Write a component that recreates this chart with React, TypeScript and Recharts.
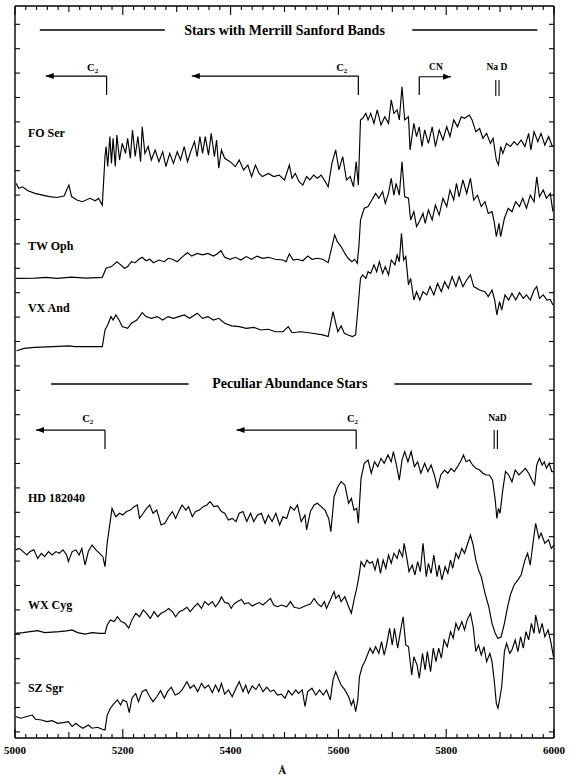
import React from 'react';
import { LineChart, Line, XAxis, YAxis, ReferenceLine, ReferenceDot } from 'recharts';

type Pt = [number, number];

const FONT = '"Liberation Serif", "Times New Roman", serif';

// x axis: wavelength in Angstrom
const xLabels = [5000, 5200, 5400, 5600, 5800, 6000];
const xTicks = Array.from({ length: 51 }, (_, i) => 5000 + i * 20);
const yTicks = Array.from({ length: 30 }, (_, i) => i + 0.25);

// spectra, [wavelength, offset flux]
const foSer: Pt[] = [[5002,22.73],[5007,22.53],[5014,22.59],[5024,22.43],[5037,22.32],[5051,22.25],[5064,22.19],[5078,22.15],[5091,22.21],[5100,22.66],[5105,22.19],[5115,22.05],[5125,21.98],[5139,22.12],[5149,22.02],[5155,22.12],[5162,21.84],[5167,23.83],[5169,24.24],[5172,23.42],[5176,24.65],[5179,23.55],[5182,24.58],[5186,23.42],[5189,24.71],[5194,23.69],[5199,24.37],[5205,23.96],[5209,24.58],[5214,23.76],[5218,24.92],[5223,23.83],[5228,24.65],[5233,23.62],[5236,25.05],[5241,23.96],[5247,24.24],[5253,23.69],[5260,24.10],[5267,23.62],[5274,24.03],[5280,23.42],[5287,23.96],[5294,23.55],[5301,24.03],[5307,23.69],[5314,24.24],[5320,23.62],[5326,24.03],[5333,24.44],[5338,23.83],[5343,24.65],[5348,23.96],[5353,24.65],[5359,23.89],[5364,24.78],[5370,23.83],[5374,24.51],[5378,23.35],[5383,24.10],[5389,23.76],[5399,23.62],[5409,23.42],[5416,23.69],[5424,23.28],[5432,23.48],[5439,23.01],[5446,23.48],[5453,23.14],[5459,23.01],[5470,23.14],[5480,23.01],[5490,23.07],[5500,22.87],[5509,23.48],[5514,22.94],[5520,23.14],[5527,22.80],[5534,22.66],[5541,23.01],[5547,22.87],[5554,23.07],[5561,22.94],[5568,23.07],[5574,22.87],[5581,22.59],[5588,23.55],[5595,24.10],[5601,23.28],[5608,23.83],[5615,22.87],[5622,23.01],[5628,22.59],[5633,23.62],[5637,22.66],[5641,25.33],[5645,25.40],[5651,25.60],[5655,25.33],[5660,25.60],[5666,25.19],[5672,25.74],[5679,25.12],[5686,25.46],[5693,25.19],[5698,26.15],[5703,25.60],[5709,25.74],[5713,25.33],[5718,26.69],[5723,25.33],[5730,25.46],[5733,24.10],[5740,25.19],[5745,24.65],[5750,25.05],[5755,24.24],[5760,24.92],[5767,24.37],[5774,25.05],[5780,24.24],[5787,24.92],[5794,24.51],[5801,25.05],[5807,24.65],[5814,25.33],[5821,25.05],[5828,25.46],[5834,25.40],[5843,25.53],[5848,25.33],[5855,24.85],[5862,24.98],[5868,24.58],[5875,24.78],[5882,24.37],[5887,24.58],[5893,23.69],[5897,23.48],[5901,24.24],[5905,23.96],[5912,24.37],[5919,24.24],[5926,24.44],[5932,24.30],[5939,24.51],[5946,24.24],[5953,24.78],[5957,24.10],[5963,24.85],[5970,24.44],[5976,24.78],[5983,24.30],[5990,24.65],[5997,24.24]];

const twOph: Pt[] = [[5002,18.84],[5037,18.85],[5057,18.88],[5078,18.84],[5105,18.89],[5132,18.85],[5162,18.88],[5169,19.25],[5179,19.32],[5189,19.52],[5196,19.39],[5203,19.25],[5209,19.32],[5216,19.52],[5223,19.48],[5230,19.62],[5236,19.70],[5243,19.56],[5250,19.62],[5257,19.48],[5267,19.59],[5277,19.52],[5284,19.66],[5292,19.62],[5301,19.52],[5311,19.73],[5320,19.89],[5328,19.75],[5338,19.86],[5348,19.80],[5358,19.86],[5368,19.75],[5375,19.84],[5382,19.97],[5389,19.70],[5399,19.62],[5409,19.70],[5419,19.59],[5429,19.73],[5439,19.62],[5449,19.75],[5459,19.66],[5470,19.70],[5483,19.62],[5497,19.59],[5503,19.52],[5509,19.84],[5516,19.59],[5524,19.62],[5534,19.56],[5543,19.75],[5551,19.62],[5561,19.66],[5571,19.62],[5581,19.48],[5588,20.14],[5593,20.62],[5598,20.34],[5605,20.14],[5612,19.86],[5618,19.66],[5625,19.52],[5630,19.62],[5635,19.45],[5638,20.14],[5641,21.23],[5648,21.71],[5655,21.78],[5662,22.05],[5669,22.32],[5675,22.12],[5682,22.39],[5687,21.91],[5693,22.32],[5698,22.94],[5703,22.25],[5707,22.73],[5713,22.25],[5718,23.62],[5723,22.18],[5730,22.12],[5734,21.23],[5740,21.57],[5745,20.96],[5750,21.16],[5757,21.50],[5761,21.09],[5767,21.64],[5774,21.23],[5780,21.84],[5787,21.43],[5794,22.12],[5801,21.78],[5807,22.46],[5814,22.05],[5819,22.73],[5824,22.18],[5831,22.87],[5838,22.32],[5845,22.94],[5851,22.05],[5858,22.25],[5865,21.78],[5872,21.98],[5878,21.50],[5885,21.57],[5889,21.16],[5893,20.55],[5898,21.09],[5901,20.55],[5908,21.30],[5915,21.71],[5922,21.57],[5929,21.98],[5936,21.78],[5942,22.12],[5949,21.71],[5956,22.25],[5963,21.98],[5968,23.00],[5973,22.18],[5980,22.46],[5986,22.12],[5993,22.32],[5998,21.57]];

const vxAnd: Pt[] = [[5003,15.87],[5017,15.97],[5037,16.01],[5071,16.04],[5101,16.07],[5111,16.04],[5162,16.04],[5167,16.72],[5172,16.93],[5178,17.27],[5182,17.13],[5187,17.34],[5193,17.13],[5199,16.86],[5209,16.79],[5216,17.00],[5226,17.13],[5236,17.43],[5243,17.27],[5253,17.20],[5264,17.27],[5274,17.13],[5284,17.27],[5294,17.20],[5304,17.27],[5314,17.34],[5324,17.20],[5338,17.41],[5348,17.20],[5358,17.27],[5368,17.13],[5378,17.20],[5389,17.00],[5402,16.89],[5416,16.86],[5429,16.79],[5443,16.83],[5456,16.72],[5470,16.75],[5483,16.65],[5497,16.65],[5507,16.86],[5514,16.61],[5530,16.65],[5551,16.59],[5571,16.52],[5581,16.45],[5590,17.47],[5595,17.00],[5599,16.65],[5605,16.89],[5611,16.59],[5618,16.52],[5626,16.45],[5632,16.52],[5637,17.81],[5641,18.84],[5645,18.98],[5651,18.84],[5655,19.11],[5660,19.04],[5666,19.39],[5671,19.11],[5676,19.52],[5682,19.04],[5687,19.32],[5693,18.98],[5698,19.59],[5705,19.39],[5709,19.80],[5713,19.52],[5717,20.68],[5721,19.59],[5725,19.73],[5730,18.57],[5734,18.84],[5740,17.95],[5745,18.29],[5751,17.95],[5757,18.29],[5764,18.16],[5770,18.50],[5777,18.16],[5784,18.63],[5791,18.29],[5797,18.70],[5804,18.43],[5811,18.91],[5818,18.50],[5824,18.91],[5831,18.50],[5838,18.77],[5845,18.98],[5851,18.50],[5862,18.36],[5872,18.29],[5878,18.09],[5885,18.36],[5890,17.95],[5894,17.34],[5899,17.88],[5903,17.54],[5909,18.16],[5916,17.95],[5922,18.23],[5929,17.95],[5936,18.25],[5943,18.02],[5949,18.16],[5956,17.95],[5963,18.36],[5968,18.50],[5973,18.02],[5980,18.16],[5987,17.95],[5993,17.98],[5998,17.75]];

const hd182040: Pt[] = [[5001,7.71],[5008,7.77],[5015,7.64],[5022,7.50],[5028,7.64],[5035,7.71],[5042,7.36],[5049,7.57],[5055,7.43],[5062,7.64],[5069,7.50],[5076,7.64],[5082,7.57],[5089,7.71],[5096,7.50],[5099,7.23],[5106,7.64],[5113,7.71],[5119,7.50],[5124,7.77],[5130,7.09],[5136,7.64],[5143,7.91],[5150,7.71],[5157,7.57],[5163,7.43],[5167,7.02],[5171,7.98],[5177,8.93],[5180,9.41],[5187,9.07],[5194,9.21],[5200,9.14],[5207,9.28],[5214,9.34],[5221,9.48],[5227,9.55],[5231,9.00],[5238,9.21],[5244,9.41],[5250,9.55],[5256,9.21],[5263,9.34],[5271,8.73],[5278,8.80],[5285,9.07],[5292,9.28],[5298,9.00],[5305,9.34],[5310,9.55],[5317,9.34],[5322,9.48],[5329,9.07],[5335,9.28],[5342,9.34],[5349,9.48],[5356,9.55],[5362,9.69],[5369,9.48],[5376,9.51],[5383,9.28],[5389,9.21],[5396,8.93],[5403,9.00],[5410,8.87],[5416,9.21],[5423,9.28],[5430,8.87],[5437,9.21],[5443,8.87],[5450,9.14],[5457,9.21],[5464,8.80],[5470,9.14],[5477,8.87],[5484,9.21],[5491,8.73],[5497,9.07],[5504,9.00],[5511,9.48],[5518,9.34],[5524,9.55],[5531,8.87],[5538,9.14],[5541,8.53],[5548,9.28],[5555,9.55],[5561,9.62],[5568,9.48],[5575,9.34],[5582,9.00],[5586,8.46],[5592,9.89],[5599,10.30],[5605,10.51],[5612,10.37],[5619,9.62],[5624,9.82],[5629,9.34],[5634,9.41],[5637,8.80],[5642,10.64],[5648,11.26],[5655,11.39],[5661,10.85],[5667,11.32],[5673,11.12],[5679,11.46],[5685,11.26],[5692,11.60],[5698,11.32],[5702,11.74],[5707,11.26],[5713,10.57],[5718,11.39],[5723,11.74],[5729,11.32],[5735,11.74],[5741,11.12],[5747,11.32],[5753,10.85],[5760,11.26],[5766,10.92],[5772,11.19],[5778,10.78],[5784,10.23],[5790,10.78],[5797,10.98],[5803,10.85],[5809,11.05],[5815,10.92],[5821,11.12],[5828,11.39],[5832,11.60],[5837,11.32],[5843,11.39],[5849,11.19],[5855,11.05],[5862,10.98],[5868,10.85],[5874,10.78],[5880,10.78],[5886,10.57],[5891,9.75],[5894,9.00],[5897,9.41],[5900,9.21],[5905,10.17],[5910,10.92],[5916,10.78],[5922,10.50],[5928,10.98],[5935,10.78],[5941,10.92],[5947,11.05],[5953,10.85],[5959,10.57],[5964,10.37],[5968,11.19],[5973,11.46],[5978,11.19],[5982,11.32],[5986,11.05],[5991,11.26],[5996,10.92],[6000,10.92]];

const wxCyg: Pt[] = [[5001,4.29],[5015,4.32],[5028,4.36],[5042,4.40],[5055,4.32],[5069,4.34],[5082,4.36],[5096,4.39],[5106,4.43],[5116,4.32],[5130,4.26],[5143,4.32],[5157,4.29],[5167,4.29],[5171,4.63],[5177,4.84],[5184,4.77],[5190,4.97],[5197,4.77],[5204,4.70],[5211,4.50],[5217,4.84],[5224,5.11],[5231,4.97],[5238,5.25],[5244,5.11],[5251,4.90],[5258,5.18],[5265,4.97],[5271,5.11],[5278,5.18],[5285,5.31],[5292,5.18],[5298,4.97],[5305,5.18],[5312,5.25],[5319,5.36],[5325,5.18],[5332,5.36],[5339,5.52],[5346,5.31],[5352,5.59],[5359,5.45],[5366,5.59],[5372,5.38],[5379,5.59],[5383,5.79],[5389,5.55],[5396,5.52],[5401,5.31],[5406,5.49],[5413,5.59],[5420,5.68],[5426,5.49],[5433,5.55],[5440,5.41],[5447,5.49],[5453,5.55],[5460,5.45],[5467,5.59],[5474,5.72],[5480,5.45],[5487,5.38],[5494,5.45],[5504,5.38],[5511,5.59],[5518,5.36],[5528,5.31],[5538,5.41],[5548,5.49],[5555,5.72],[5561,5.52],[5568,5.38],[5574,5.59],[5578,5.31],[5585,5.66],[5592,6.00],[5595,5.72],[5601,5.86],[5605,5.59],[5612,5.79],[5619,5.38],[5624,5.11],[5629,5.66],[5634,6.13],[5639,6.75],[5642,7.23],[5648,7.02],[5653,7.29],[5658,7.16],[5663,7.23],[5668,6.89],[5673,7.36],[5678,6.75],[5683,7.29],[5688,6.95],[5693,7.50],[5698,7.16],[5703,7.57],[5709,7.36],[5713,7.71],[5719,7.43],[5722,7.98],[5727,7.36],[5731,6.82],[5737,7.09],[5742,6.68],[5747,7.23],[5752,6.82],[5757,7.98],[5763,6.61],[5767,7.16],[5772,6.75],[5777,7.50],[5783,6.61],[5787,7.09],[5792,6.48],[5798,7.02],[5803,6.75],[5808,7.29],[5812,6.95],[5818,7.57],[5823,7.36],[5829,7.77],[5834,7.57],[5839,7.91],[5845,8.32],[5850,7.91],[5855,7.29],[5860,6.89],[5865,6.61],[5872,5.93],[5879,5.38],[5885,4.70],[5891,4.29],[5896,4.08],[5902,4.15],[5908,4.70],[5914,5.38],[5919,5.86],[5926,6.27],[5933,6.48],[5939,6.68],[5946,7.29],[5951,7.57],[5956,7.09],[5961,7.98],[5966,8.80],[5972,8.18],[5976,8.40],[5983,7.98],[5990,8.12],[5995,7.77],[6000,7.91]];

const szSgr: Pt[] = [[5001,0.88],[5011,0.81],[5022,0.88],[5032,0.94],[5038,0.77],[5049,0.74],[5059,0.67],[5069,0.71],[5079,0.60],[5089,0.63],[5099,0.67],[5106,0.47],[5113,0.60],[5119,0.49],[5126,0.40],[5136,0.53],[5143,0.40],[5153,0.44],[5162,0.36],[5167,0.33],[5171,0.94],[5177,1.22],[5184,1.42],[5190,1.56],[5196,1.35],[5200,1.56],[5207,1.49],[5212,1.04],[5217,1.63],[5224,1.83],[5229,1.49],[5236,1.90],[5243,1.99],[5250,1.69],[5256,1.49],[5263,1.69],[5270,1.94],[5277,1.63],[5283,1.90],[5290,2.08],[5297,1.76],[5304,1.83],[5310,1.97],[5319,2.31],[5325,2.04],[5332,2.17],[5339,1.90],[5346,2.24],[5352,2.04],[5359,2.17],[5366,1.86],[5372,2.17],[5378,1.90],[5383,2.24],[5389,1.80],[5396,1.97],[5403,1.69],[5410,2.04],[5416,2.31],[5423,1.90],[5428,2.17],[5433,1.83],[5440,2.13],[5447,1.99],[5453,2.21],[5460,1.90],[5467,2.08],[5474,1.90],[5480,1.97],[5487,1.76],[5494,1.80],[5501,1.63],[5507,1.94],[5514,1.76],[5521,1.97],[5526,1.83],[5533,1.97],[5538,1.29],[5543,1.90],[5551,2.04],[5558,1.76],[5565,1.97],[5572,1.76],[5578,1.97],[5585,1.56],[5590,2.38],[5595,2.72],[5601,2.38],[5605,2.17],[5612,1.97],[5619,1.69],[5624,1.35],[5628,1.56],[5632,1.08],[5636,1.56],[5639,2.51],[5644,2.92],[5649,3.13],[5655,3.47],[5659,3.68],[5664,3.47],[5669,3.74],[5675,3.47],[5680,3.95],[5685,3.40],[5690,3.88],[5695,4.49],[5700,3.81],[5704,4.49],[5710,3.68],[5715,4.36],[5720,4.97],[5725,3.81],[5730,3.74],[5736,2.58],[5740,3.33],[5746,2.99],[5750,2.45],[5756,3.47],[5761,2.79],[5765,3.54],[5771,2.72],[5776,3.68],[5781,3.13],[5786,3.68],[5791,3.27],[5796,4.02],[5802,3.74],[5808,4.36],[5813,4.09],[5818,4.70],[5823,4.43],[5829,4.77],[5834,4.43],[5839,4.84],[5845,5.11],[5850,4.56],[5855,3.54],[5860,3.81],[5865,3.40],[5870,3.74],[5875,3.13],[5881,3.47],[5885,3.13],[5889,2.38],[5893,1.42],[5896,1.22],[5899,1.56],[5903,2.11],[5908,3.54],[5912,3.88],[5918,3.47],[5922,3.61],[5928,4.02],[5933,3.54],[5938,4.15],[5943,3.68],[5948,4.36],[5953,4.02],[5958,4.70],[5963,4.29],[5966,5.04],[5973,4.29],[5978,4.70],[5983,4.15],[5989,4.43],[5994,3.95],[5999,3.33]];

const spectra = [foSer, twOph, vxAnd, hd182040, wxCyg, szSgr];
const starNames = ['FO Ser', 'TW Oph', 'VX And', 'HD 182040', 'WX Cyg', 'SZ Sgr'];
const starNameAt: Pt[] = [[5024, 24.8], [5024, 20.16], [5024, 17.62], [5024, 9.84], [5024, 5.45], [5024, 2.05]];

const titles: [string, number, number][] = [
  ['Stars with Merrill Sanford Bands', 5500, 28.98],
  ['Peculiar Abundance Stars', 5510, 14.51],
];
// [from, to, level]
const titleRules: [number, number, number][] = [
  [5046, 5278, 29.02], [5737, 5969, 29.02], [5067, 5322, 14.51], [5704, 5959, 14.51],
];
// band heads pointing blueward: [head, arrow tip, arrow level, foot level]
const c2Arrows: [number, number, number, number][] = [
  [5170, 5057, 27.13, 26.35], [5637, 5328, 27.13, 26.35],
  [5167, 5039, 12.62, 11.84], [5633, 5411, 12.62, 11.84],
];
const cnArrow: [number, number, number, number] = [5750, 5809, 27.1, 26.35];
// sodium doublet ticks: [D2, D1, top, bottom]
const naD: [number, number, number, number][] = [[5892, 5898, 26.97, 26.31], [5889, 5895, 12.62, 11.84]];
const bandLabels: [string, number, number][] = [
  ['C2', 5144, 27.5], ['C2', 5606, 27.5], ['CN', 5781, 27.5], ['Na D', 5894, 27.5],
  ['C2', 5135, 13.11], ['C2', 5626, 13.11], ['NaD', 5895, 13.11],
];

const ink = '#000';

const XTick = ({ x, y, payload, top }: any) => {
  const w = payload.value;
  const len = (w - 5000) % 200 === 0 ? 9 : (w - 5000) % 100 === 0 ? 6 : 4;
  const d = top ? 1 : -1;
  return (
    <g>
      <line x1={x} x2={x} y1={y} y2={y + d * len} stroke={ink} strokeWidth={1.1} />
      {!top && xLabels.includes(w) && (
        <text x={x} y={y + 12} textAnchor="middle" dominantBaseline="central"
          fontFamily={FONT} fontWeight="bold" fontSize={11} fill={ink}>{w}</text>
      )}
    </g>
  );
};

const YTick = ({ x, y, right }: any) => (
  <line x1={x} x2={x + (right ? -5 : 5)} y1={y} y2={y} stroke={ink} strokeWidth={1.1} />
);

const Note = ({ cx, cy, text, size, anchor = 'middle' }: any) => (
  <text x={cx} y={cy} textAnchor={anchor} dominantBaseline="central"
    fontFamily={FONT} fontWeight="bold" fontSize={size} fill={ink}>
    {text === 'C2' ? <>C<tspan fontSize={size * 0.65} dy={3}>2</tspan></> : text}
  </text>
);

const Head = ({ cx, cy, dir }: any) => (
  <path d={`M${cx},${cy} l${-dir * 8},-3 l0,6 z`} fill={ink} />
);

const seg = (x1: number, y1: number, x2: number, y2: number, k: string, w = 1.2) => (
  <ReferenceLine key={k} segment={[{ x: x1, y: y1 }, { x: x2, y: y2 }]} stroke={ink}
    strokeWidth={w} ifOverflow="visible" />
);

const frame = { stroke: ink, strokeWidth: 1.4 };

export default function App() {
  return (
    <div style={{ position: 'absolute', left: 0, top: 0, background: '#fff' }}>
      <LineChart width={570} height={778} margin={{ top: 5, right: 15, bottom: 39, left: 14 }}>
        <XAxis xAxisId="top" orientation="top" type="number" dataKey="w" domain={[5000, 6000]}
          allowDataOverflow ticks={xTicks} interval={0} height={1} tickSize={0} tickMargin={0}
          axisLine={frame} tickLine={false} tick={(p: any) => <XTick {...p} top />} />
        <XAxis type="number" dataKey="w" domain={[5000, 6000]} allowDataOverflow ticks={xTicks}
          interval={0} height={1} tickSize={0} tickMargin={0} axisLine={frame} tickLine={false}
          tick={(p: any) => <XTick {...p} />} />
        <YAxis type="number" domain={[0, 30]} allowDataOverflow ticks={yTicks} interval={0}
          width={1} tickSize={0} tickMargin={0} axisLine={frame} tickLine={false}
          tick={(p: any) => <YTick {...p} />} />
        <YAxis yAxisId="right" orientation="right" type="number" domain={[0, 30]} allowDataOverflow
          ticks={yTicks} interval={0} width={1} tickSize={0} tickMargin={0} axisLine={frame}
          tickLine={false} tick={(p: any) => <YTick {...p} right />} />

        {spectra.map((pts, i) => (
          <Line key={starNames[i]} data={pts.map(([w, f]) => ({ w, f }))} dataKey="f"
            type="linear" stroke={ink} strokeWidth={1.15} dot={false}
            isAnimationActive={false} />
        ))}

        {titleRules.map(([a, b, y], i) => seg(a, y, b, y, `rule${i}`, 1.5))}
        {c2Arrows.map(([h, t, y, f], i) => [
          seg(h, y, t, y, `c2h${i}`),
          seg(h, y, h, f, `c2v${i}`),
          <ReferenceDot key={`c2a${i}`} x={t} y={y} r={0} ifOverflow="visible"
            shape={(p: any) => <Head {...p} dir={-1} />} />,
        ])}
        {seg(cnArrow[0], cnArrow[2], cnArrow[1], cnArrow[2], 'cnh')}
        {seg(cnArrow[0], cnArrow[2], cnArrow[0], cnArrow[3], 'cnv')}
        <ReferenceDot x={cnArrow[1]} y={cnArrow[2]} r={0} ifOverflow="visible"
          shape={(p: any) => <Head {...p} dir={1} />} />
        {naD.map(([a, b, t, f], i) => [seg(a, t, a, f, `na1${i}`, 1.1), seg(b, t, b, f, `na2${i}`, 1.1)])}

        {titles.map(([t, x, y]) => (
          <ReferenceDot key={t} x={x} y={y} r={0} ifOverflow="visible"
            shape={(p: any) => <Note {...p} text={t} size={14} />} />
        ))}
        {bandLabels.map(([t, x, y], i) => (
          <ReferenceDot key={`bl${i}`} x={x} y={y} r={0} ifOverflow="visible"
            shape={(p: any) => <Note {...p} text={t} size={t === 'C2' ? 10.5 : 9.5} />} />
        ))}
        {starNames.map((n, i) => (
          <ReferenceDot key={`sn${i}`} x={starNameAt[i][0]} y={starNameAt[i][1]} r={0}
            ifOverflow="visible"
            shape={(p: any) => <Note {...p} text={n} size={12} anchor="start" />} />
        ))}
        <ReferenceDot x={5496} y={-1.31} r={0} ifOverflow="visible"
          shape={(p: any) => <Note {...p} text="Å" size={11} />} />
      </LineChart>
    </div>
  );
}
